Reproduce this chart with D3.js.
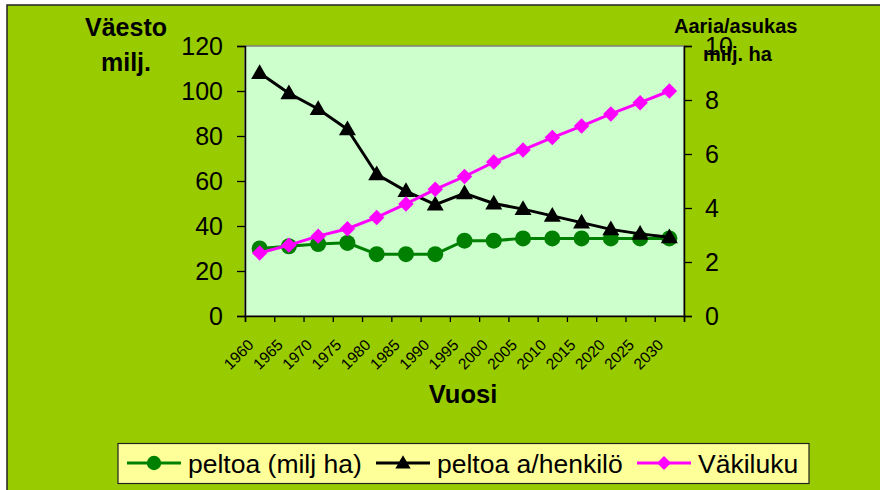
<!DOCTYPE html>
<html>
<head>
<meta charset="utf-8">
<script src="https://cdn.jsdelivr.net/npm/d3@7"></script>
<style>
  body { margin: 0; background: #fff; }
  text { font-family: Arial, "Liberation Sans", sans-serif; }
</style>
</head>
<body>
<div id="chart"></div>
<script>
(function(){

var years = ["1960","1965","1970","1975","1980","1985","1990","1995","2000","2005","2010","2015","2020","2025","2030"];
var peltoa = [30, 31, 32, 32.5, 27.5, 27.5, 27.5, 33.5, 33.5, 34.5, 34.5, 34.5, 34.5, 34.5, 34.5];
var peltoaHenkilo = [108, 99, 92, 83, 63, 55.5, 49.5, 54.5, 50, 47.5, 44.5, 41.5, 38.5, 36.5, 35];
var vakiluku = [28, 31.5, 35.5, 38.8, 43.8, 49.8, 56.3, 62, 68.4, 73.8, 79.3, 84.4, 89.8, 94.8, 100];
var leftTicks = [0, 20, 40, 60, 80, 100, 120];
var rightTicks = [0, 2, 4, 6, 8, 10];

var W = 880, H = 490;
var plot = {left: 245, right: 684, top: 46, bottom: 316};

var svg = d3.select("#chart")
  .append("svg")
    .attr("width", W)
    .attr("height", H);

// chart background
svg.append("rect")
    .attr("x", 7).attr("y", 5)
    .attr("width", W).attr("height", H)
    .style("fill", "#99CC00")
    .style("stroke", "#222")
    .style("stroke-width", 1.5);

var x = d3.scaleBand()
    .domain(years)
    .range([plot.left, plot.right]);

var xb = d3.scaleLinear()
    .domain([0, years.length])
    .range([plot.left, plot.right]);

var y = d3.scaleLinear()
    .domain([0, 120])
    .range([plot.bottom, plot.top]);

var y2 = d3.scaleLinear()
    .domain([0, 10])
    .range([plot.bottom, plot.top]);

// plot area
svg.append("rect")
    .attr("x", plot.left).attr("y", plot.top)
    .attr("width", plot.right - plot.left)
    .attr("height", plot.bottom - plot.top)
    .style("fill", "#CCFFCC")
    .style("stroke", "#808080")
    .style("stroke-width", 1.5);

// axes
var gl = svg.append("g")
    .attr("transform", "translate(" + plot.left + ",0)")
    .call(d3.axisLeft(y).tickValues(leftTicks).tickSize(8).tickPadding(14));

var gr = svg.append("g")
    .attr("transform", "translate(" + plot.right + ",0)")
    .call(d3.axisRight(y2).tickValues(rightTicks).tickSize(8).tickPadding(13));

var gx = svg.append("g")
    .attr("transform", "translate(0," + plot.bottom + ")")
    .call(d3.axisBottom(xb).tickValues(d3.range(years.length + 1)).tickFormat("").tickSize(6));

[gl, gr, gx].forEach(function(g) {
  g.select(".domain").style("stroke", "#000").style("stroke-width", 1.5);
  g.selectAll(".tick line").style("stroke", "#000").style("stroke-width", 1.3);
  g.selectAll(".tick text")
      .style("font-family", "Arial, 'Liberation Sans', sans-serif")
      .style("font-size", "25px")
      .style("fill", "#000");
});

// x category labels
svg.append("g").selectAll("text")
    .data(years)
    .enter()
    .append("text")
      .attr("transform", function(d) {
        return "translate(" + (x(d) + x.bandwidth() / 2 - 5) + ",346) rotate(-45)";
      })
      .style("text-anchor", "end")
      .style("font-size", "15.5px")
      .text(function(d) { return d; });

// titles
svg.append("text").attr("x", 126).attr("y", 36)
    .style("text-anchor", "middle").style("font-size", "25px").style("font-weight", "bold")
    .text("Väesto");
svg.append("text").attr("x", 126).attr("y", 71)
    .style("text-anchor", "middle").style("font-size", "25px").style("font-weight", "bold")
    .text("milj.");
svg.append("text").attr("x", 463).attr("y", 403)
    .style("text-anchor", "middle").style("font-size", "25.5px").style("font-weight", "bold")
    .text("Vuosi");

// series
var series = [
  {name: "peltoa (milj ha)", values: peltoa, color: "#008000", marker: "circle"},
  {name: "peltoa a/henkilö", values: peltoaHenkilo, color: "#000000", marker: "triangle"},
  {name: "Väkiluku", values: vakiluku, color: "#FF00FF", marker: "diamond"}
];

var cx = function(d, i) { return x(years[i]) + x.bandwidth() / 2; };

function drawMarker(g, s, scale) {
  if (s.marker === "circle") {
    g.append("circle").attr("r", 8 * scale).style("fill", s.color);
  } else if (s.marker === "triangle") {
    g.append("path")
      .attr("d", d3.symbol().type(d3.symbolTriangle).size(125 * scale * scale)())
      .attr("transform", "translate(0,1)")
      .style("fill", s.color);
  } else {
    g.append("path")
      .attr("d", d3.symbol().type(d3.symbolSquare).size(120 * scale * scale)())
      .attr("transform", "rotate(45)")
      .style("fill", s.color);
  }
}

series.forEach(function(s) {
  var line = d3.line()
      .x(cx)
      .y(function(d) { return y(d); });

  svg.append("path")
      .datum(s.values)
      .attr("d", line)
      .style("fill", "none")
      .style("stroke", s.color)
      .style("stroke-width", 3);

  svg.append("g").selectAll("g")
      .data(s.values)
      .enter()
      .append("g")
        .attr("transform", function(d, i) { return "translate(" + cx(d, i) + "," + y(d) + ")"; })
        .each(function() { drawMarker(d3.select(this), s, 1); });
});

// right axis title drawn last (overlaps tick label as in original)
svg.append("text").attr("x", 674).attr("y", 33)
    .style("font-size", "20px").style("font-weight", "bold")
    .text("Aaria/asukas");
svg.append("text").attr("x", 703).attr("y", 61)
    .style("font-size", "20px").style("font-weight", "bold")
    .text("milj. ha");

// legend
var legend = svg.append("g");
legend.append("rect")
    .attr("x", 118).attr("y", 443.5)
    .attr("width", 691).attr("height", 40)
    .style("fill", "#FFFF99")
    .style("stroke", "#222")
    .style("stroke-width", 1.2);

var legendX = [127, 376, 637];
series.forEach(function(s, i) {
  var g = legend.append("g").attr("transform", "translate(" + legendX[i] + ",463)");
  g.append("line")
      .attr("x1", 0).attr("x2", 54)
      .style("stroke", s.color)
      .style("stroke-width", 3);
  var m = g.append("g").attr("transform", "translate(27,0)");
  drawMarker(m, s, 0.9);
  g.append("text")
      .attr("x", 61).attr("y", 10)
      .style("font-size", "26.5px")
      .text(s.name);
});

})()
</script>
</body>
</html>
